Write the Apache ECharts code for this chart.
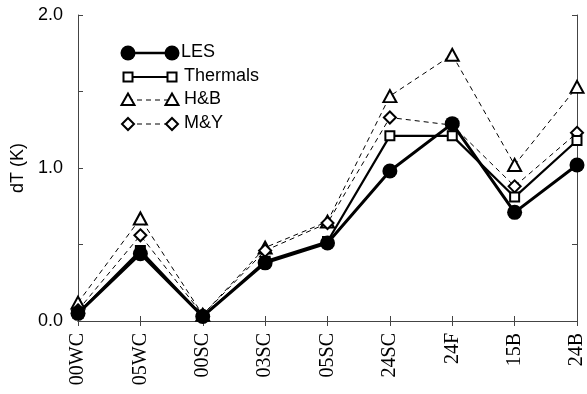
<!DOCTYPE html>
<html><head><meta charset="utf-8">
<script src="https://cdn.jsdelivr.net/npm/echarts@6/dist/echarts.min.js"></script>
<style>html,body{margin:0;padding:0;background:#fff}#c{width:587px;height:394px}</style>
</head><body><div id="c"></div>
<script>
const categories = ['00WC','05WC','00SC','03SC','05SC','24SC','24F','15B','24B'];
const les      = [0.05, 0.44, 0.03, 0.38, 0.51, 0.98, 1.29, 0.71, 1.02];
const thermals = [0.05, 0.46, 0.03, 0.39, 0.52, 1.21, 1.21, 0.81, 1.18];
const hb       = [0.12, 0.67, 0.04, 0.48, 0.65, 1.47, 1.74, 1.02, 1.53];
const my       = [0.07, 0.56, 0.04, 0.46, 0.64, 1.33, 1.28, 0.88, 1.23];
const yTicks = ['0.0','1.0','2.0'];
const legendNames = ['LES','Thermals','H&B','M&Y'];

const chart = echarts.init(document.getElementById('c'));
const axisLine = {show:true, lineStyle:{color:'#444', width:1}};
const triPath = 'path://M0,10 L5.5,0 L11,10 Z';
const lx1 = 128, lx2 = 172, ly = [53, 77, 100, 124];
function legendMarker(kind, x, y){
  const s = {fill:'#fff', stroke:'#000', lineWidth:2};
  if(kind===0) return {type:'circle', shape:{cx:x, cy:y, r:7.5}, style:{fill:'#000'}, z:10};
  if(kind===1) return {type:'rect', shape:{x:x-4.5, y:y-4.5, width:9, height:9}, style:s, z:10};
  if(kind===2) return {type:'polygon', shape:{points:[[x,y-6.5],[x-6.5,y+5],[x+6.5,y+5]]}, style:s, z:10};
  return {type:'polygon', shape:{points:[[x,y-6],[x+6,y],[x,y+6],[x-6,y]]}, style:s, z:10};
}
const graphics = [];
legendNames.forEach((n,i)=>{
  graphics.push({type:'line', shape:{x1:lx1, y1:ly[i], x2:lx2, y2:ly[i]},
    style:{stroke:'#000', lineWidth: i===0?2.5:(i===1?2:1), lineDash: i>1?[5,4]:null}, z:9});
  graphics.push(legendMarker(i, lx1, ly[i]));
  graphics.push(legendMarker(i, lx2, ly[i]));
  graphics.push({type:'text', left: i===0?181:184, top: ly[i]-10,
    style:{text:n, font:'18px "Liberation Sans", Arial, sans-serif', fill:'#000'}, z:10});
});

chart.setOption({
  animation:false,
  backgroundColor:'#fff',
  grid:{left:78, right:8, top:15, bottom:73, containLabel:false},
  graphic: graphics,
  xAxis:[{
    type:'category', data:categories, boundaryGap:false,
    axisLine, axisTick:{show:true, inside:true, length:5, lineStyle:{color:'#444'}},
    axisLabel:{rotate:90, margin:12, color:'#000', fontSize:20, fontFamily:'"Liberation Serif", "Times New Roman", serif'},
    splitLine:{show:false}
  },{
    type:'category', data:categories, boundaryGap:false, position:'top',
    axisLine, axisTick:{show:true, inside:true, length:5, lineStyle:{color:'#444'}},
    axisLabel:{show:false}, splitLine:{show:false}
  }],
  yAxis:[{
    type:'value', min:0, max:2, interval:0.5,
    name:'dT (K)', nameLocation:'middle', nameGap:48, nameRotate:90,
    nameTextStyle:{color:'#000', fontSize:18, fontFamily:'"Liberation Sans", Arial, sans-serif'},
    axisLine, axisTick:{show:true, inside:true, length:5, lineStyle:{color:'#444'}},
    axisLabel:{margin:15, color:'#000', fontSize:18, fontFamily:'"Liberation Sans", Arial, sans-serif',
      formatter:v=>{const i=yTicks.indexOf(v.toFixed(1)); return (Math.abs(v-Math.round(v))<1e-9 && i>=0)?yTicks[i]:'';}},
    splitLine:{show:false}
  },{
    type:'value', min:0, max:2, interval:0.5, position:'right',
    axisLine, axisTick:{show:true, inside:true, length:5, lineStyle:{color:'#444'}},
    axisLabel:{show:false}, splitLine:{show:false}
  }],
  series:[
    {name:'H&B', type:'line', data:hb, symbol:triPath, symbolSize:[13,12], z:2,
     lineStyle:{color:'#000', width:1, type:[5,4]},
     itemStyle:{color:'#fff', borderColor:'#000', borderWidth:2}},
    {name:'M&Y', type:'line', data:my, symbol:'diamond', symbolSize:[12,12], z:3,
     lineStyle:{color:'#000', width:1, type:[5,4]},
     itemStyle:{color:'#fff', borderColor:'#000', borderWidth:2}},
    {name:'Thermals', type:'line', data:thermals, symbol:'rect', symbolSize:9, z:4,
     lineStyle:{color:'#000', width:2.2},
     itemStyle:{color:'#fff', borderColor:'#000', borderWidth:2}},
    {name:'LES', type:'line', data:les, symbol:'circle', symbolSize:15, z:5,
     lineStyle:{color:'#000', width:3},
     itemStyle:{color:'#000', borderColor:'#000', borderWidth:0}}
  ]
});
</script></body></html>
